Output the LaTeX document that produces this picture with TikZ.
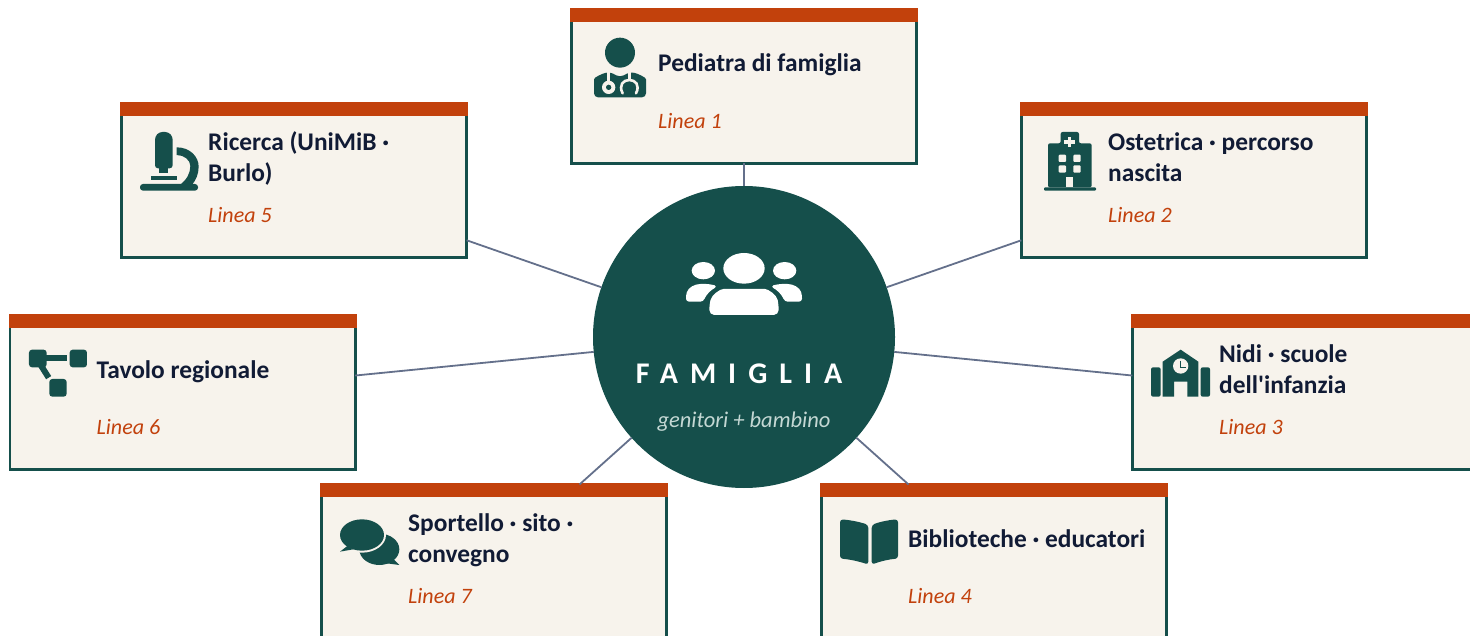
\documentclass[tikz,border=0pt]{standalone}
\usepackage{fontspec}
\setmainfont{Carlito}[Ligatures=TeXOff]
\definecolor{teal}{HTML}{154F4B}
\definecolor{rust}{HTML}{C2410C}
\definecolor{cream}{HTML}{F7F3EC}
\definecolor{navy}{HTML}{111B35}
\definecolor{slateline}{HTML}{64708B}
\definecolor{softtext}{HTML}{C4D8D4}
\tikzset{
 cardbox/.style={draw=teal,fill=cream,line width=2.6pt,minimum width=345.4pt,minimum height=154pt,inner sep=0pt,outer sep=0pt},
 cardbar/.style={fill=rust,draw=none,minimum width=348pt,minimum height=14pt,inner sep=0pt,outer sep=0pt,anchor=north west},
 cardtitle/.style={text=navy,anchor=west,align=left,inner sep=0pt,font=\fontsize{25.4}{31}\selectfont\bfseries},
 cardline/.style={text=rust,anchor=base west,inner sep=0pt,font=\fontsize{22}{26}\selectfont\itshape},
 link/.style={draw=slateline,line width=1.8pt},
 zoomed/.style={x=.33333pt,y=-.33333pt},
}
\newcommand{\card}[5]{%
 \begin{scope}[shift={(#2,#3)}]
 \node[cardbox] (#1) at (174,78.5) {};
 \node[cardbar] (#1bar) at (0,0.3) {};
 \node[cardtitle] (#1title) at (88,57.8) {\strut #4\strut};
 \node[cardline] (#1line) at (88,120.3) {#5};
 \end{scope}}
\begin{document}
\begin{tikzpicture}[x=1pt,y=-1pt]
\useasboundingbox (0,0) rectangle (1470,636);
\node[circle,fill=teal,minimum size=302pt,inner sep=0pt,outer sep=0pt] (hub) at (744,337) {};
\card{a}{570}{8}{Pediatra di famiglia}{Linea 1}
\card{b}{1020}{102}{Ostetrica · percorso\\nascita}{Linea 2}
\card{c}{1131}{314}{Nidi · scuole\\dell'infanzia}{Linea 3}
\card{d}{820}{483}{Biblioteche · educatori}{Linea 4}
\card{e}{120}{102}{Ricerca (UniMiB ·\\Burlo)}{Linea 5}
\card{f}{8.5}{314}{Tavolo regionale}{Linea 6}
\card{g}{320}{483}{Sportello · sito ·\\convegno}{Linea 7}
\foreach \n in {a,b,c,d,e,f,g} {\draw[link] (hub) -- (\n);}
\node[text=white,inner sep=0pt] (hubname) at (739,374) {\fontsize{30}{34}\selectfont\bfseries\addfontfeatures{LetterSpace=40}FAMIGLIA};
\node[text=softtext,inner sep=0pt] (hubsub) at (744,421.5) {\fontsize{22.5}{26}\selectfont\itshape genitori + bambino};
% doctor
\begin{scope}[shift={(570,0)},zoomed]
\fill[teal] (150,158) circle (45);
\fill[teal,rounded corners=4pt] (72,292) -- (72,250) .. controls (72,232) and (95,222) .. (118,215) -- (150,232) -- (182,215) .. controls (205,222) and (228,232) .. (228,250) -- (228,292) -- cycle;
\draw[cream,line width=2.4pt] (116,215) -- (116,262);
\fill[cream] (116,262) circle (20);
\fill[teal] (116,262) circle (8);
\draw[cream,line width=2.4pt] (178,215) -- (178,242);
\draw[cream,line width=2.6pt,line cap=round] (158,280) .. controls (145,255) and (160,240) .. (178,240) .. controls (196,240) and (211,255) .. (198,280);
\end{scope}
% microscope
\begin{scope}[shift={(120,100)},zoomed]
\fill[teal,rounded corners=3pt] (105,110) -- (118,96) -- (145,96) -- (158,110) -- (158,205) -- (105,205) -- cycle;
\fill[teal] (118,205) rectangle (145,218);
\fill[teal] (93,228) rectangle (170,240);
\fill[teal] (170,142) .. controls (210,142) and (236,170) .. (236,200) .. controls (236,222) and (228,240) .. (215,256) -- (178,256) .. controls (200,240) and (211,220) .. (211,198) .. controls (211,180) and (192,165) .. (170,165) -- cycle;
\fill[teal,rounded corners=3pt] (60,252) rectangle (234,272);
\end{scope}
% hospital
\begin{scope}[shift={(1020,100)},zoomed]
\fill[teal,rounded corners=2pt] (84,262) -- (84,130) -- (122,130) -- (122,96) -- (177,96) -- (177,130) -- (215,130) -- (215,262) -- cycle;
\fill[teal,rounded corners=1pt] (72,262) rectangle (228,272);
\fill[cream] (143,110) rectangle (154,142);
\fill[cream] (132,121) rectangle (165,132);
\foreach \wx/\wy in {116/164,160/164,116/196,160/196} {\fill[cream,rounded corners=1pt] (\wx,\wy) rectangle ++(22,22);}
\fill[cream] (137,230) rectangle (160,262);
\end{scope}
% network
\begin{scope}[shift={(0,310)},zoomed]
\fill[teal,rounded corners=3pt] (87,119) rectangle (140,172);
\fill[teal,rounded corners=3pt] (209,119) rectangle (261,172);
\fill[teal,rounded corners=3pt] (148,207) rectangle (200,260);
\draw[teal,line width=6pt] (135,145) -- (200,145);
\draw[teal,line width=6pt] (122,165) -- (146,203);
\end{scope}
% school
\begin{scope}[shift={(1130,310)},zoomed]
\fill[teal,rounded corners=2pt] (63,260) -- (63,172) -- (92,172) -- (92,260) -- cycle;
\fill[teal,rounded corners=2pt] (212,260) -- (212,172) -- (240,172) -- (240,260) -- cycle;
\fill[teal] (98,260) -- (98,155) -- (152,119) -- (205,155) -- (205,260) -- (172,260) -- (172,215) -- (132,215) -- (132,260) -- cycle;
\fill[cream] (152,168) circle (23);
\draw[teal,line width=1.6pt] (152,152) -- (152,172) -- (169,172);
\end{scope}
% chat
\begin{scope}[shift={(320,480)},zoomed]
\fill[teal] (178,208) ellipse [x radius=60,y radius=47];
\fill[teal] (215,232) -- (238,255) -- (200,250) -- cycle;
\fill[cream] (126,165) ellipse [x radius=72,y radius=53];
\fill[teal] (126,165) ellipse [x radius=66,y radius=47];
\fill[teal] (82,198) -- (60,215) -- (100,208) -- cycle;
\end{scope}
% book
\begin{scope}[shift={(820,480)},zoomed]
\fill[teal,rounded corners=3pt] (60,118) .. controls (90,120) and (120,126) .. (145,135) -- (145,254) .. controls (120,245) and (90,238) .. (60,236) -- cycle;
\fill[teal,rounded corners=3pt] (234,118) .. controls (205,120) and (178,126) .. (155,135) -- (155,254) .. controls (178,245) and (205,238) .. (234,236) -- cycle;
\end{scope}
% people
\begin{scope}[shift={(640,230)},zoomed]
\fill[white] (312,115) ellipse [x radius=62,y radius=46];
\fill[white] (190,122) ellipse [x radius=35,y radius=26];
\fill[white] (434,122) ellipse [x radius=35,y radius=26];
\fill[white,rounded corners=5pt] (208,255) -- (208,225) .. controls (215,195) and (240,177) .. (265,177) -- (360,177) .. controls (385,177) and (410,195) .. (416,225) -- (416,255) -- cycle;
\fill[white,rounded corners=3pt] (138,215) -- (138,195) .. controls (145,172) and (165,162) .. (190,162) .. controls (205,162) and (222,165) .. (232,170) .. controls (212,180) and (198,195) .. (190,215) -- cycle;
\fill[white,rounded corners=3pt] (486,215) -- (486,195) .. controls (479,172) and (459,162) .. (434,162) .. controls (419,162) and (402,165) .. (392,170) .. controls (412,180) and (426,195) .. (434,215) -- cycle;
\end{scope}
\end{tikzpicture}
\end{document}
